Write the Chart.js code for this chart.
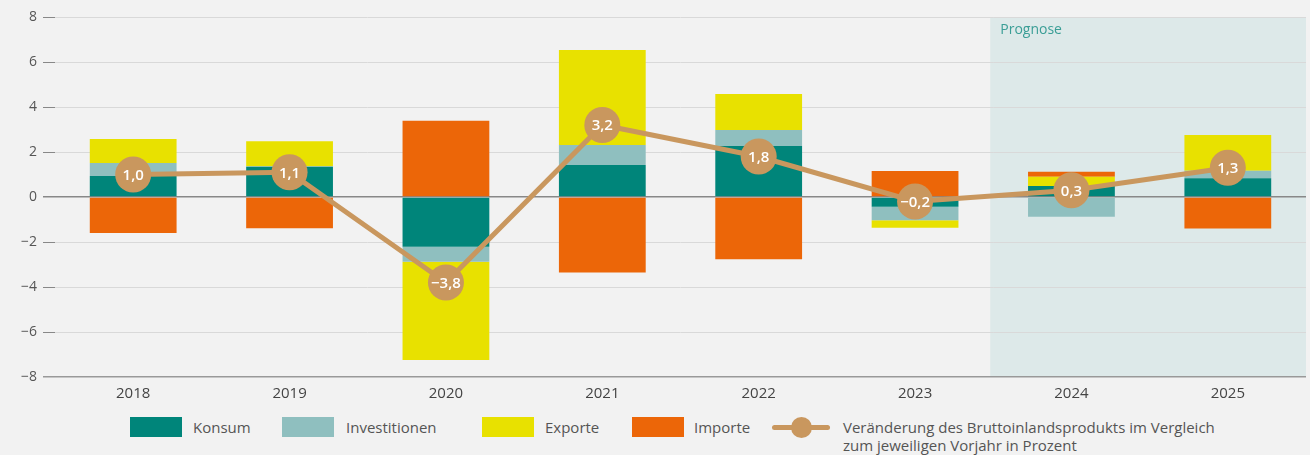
<!DOCTYPE html>
<html>
<head>
<meta charset="utf-8">
<script src="https://cdn.jsdelivr.net/npm/chart.js@4.4.1/dist/chart.umd.min.js"></script>
<style>
  body { margin: 0; background: #f2f2f2; font-family: "Open Sans", sans-serif; }
  #wrap { position: relative; width: 1310px; height: 405px; }
  .box { position: absolute; width: 52px; height: 20px; top: 417px; }
  .lbl { position: absolute; top: 417px; line-height: 20px; font-size: 15px; color: #555; }
</style>
</head>
<body>
<div id="wrap"><canvas id="chart"></canvas></div>
<div class="box" style="left:130px;background:#00857a"></div>
<div class="lbl" style="left:193px">Konsum</div>
<div class="box" style="left:282px;background:#8fbfbf"></div>
<div class="lbl" style="left:346px">Investitionen</div>
<div class="box" style="left:482px;background:#e8e100"></div>
<div class="lbl" style="left:545px">Exporte</div>
<div class="box" style="left:632px;background:#ec6608"></div>
<div class="lbl" style="left:694px">Importe</div>
<div style="position:absolute;left:772px;top:425px;width:58px;height:5px;border-radius:3px;background:#c9975e"></div>
<div style="position:absolute;left:791px;top:417px;width:21px;height:21px;border-radius:50%;background:#c9975e"></div>
<div class="lbl" style="left:843px;line-height:18px;top:418px">Veränderung des Bruttoinlandsprodukts im Vergleich<br>zum jeweiligen Vorjahr in Prozent</div>
<script>
var years = ["2018", "2019", "2020", "2021", "2022", "2023", "2024", "2025"];
var konsum = [0.93, 1.35, -2.21, 1.42, 2.27, -0.43, 0.49, 0.83];
var investitionen = [0.58, 0.02, -0.67, 0.89, 0.71, -0.6, -0.88, 0.34];
var exporte = [1.07, 1.11, -4.36, 4.22, 1.6, -0.34, 0.41, 1.59];
var importe = [-1.6, -1.39, 3.39, -3.36, -2.77, 1.16, 0.22, -1.4];
var bip = [1.0, 1.1, -3.8, 3.2, 1.8, -0.2, 0.3, 1.3];
var yTicks = [-8, -6, -4, -2, 0, 2, 4, 6, 8];
var prognoseFrom = 6;

function fmt(v) {
  var s = Math.abs(v).toFixed(1).replace(".", ",");
  return v < 0 ? "\u2212" + s : s;
}

var prognosePlugin = {
  id: "prognose",
  beforeDraw: function (chart) {
    var c = chart.ctx, a = chart.chartArea, x = chart.scales.x;
    var left = (x.getPixelForValue(prognoseFrom - 1) + x.getPixelForValue(prognoseFrom)) / 2 - 3;
    c.save();
    c.fillStyle = "#dde9e9";
    c.fillRect(left, a.top, a.right - left, a.bottom - a.top);
    c.fillStyle = "#3a9e96";
    c.font = "14px 'Open Sans'";
    c.textBaseline = "middle";
    c.fillText("Prognose", left + 10, a.top + 13);
    c.restore();
  }
};

var labelPlugin = {
  id: "bipLabels",
  afterDatasetsDraw: function (chart) {
    var c = chart.ctx;
    var meta = chart.getDatasetMeta(4);
    c.save();
    c.fillStyle = "#ffffff";
    c.font = "600 15px 'Open Sans'";
    c.textAlign = "center";
    c.textBaseline = "middle";
    meta.data.forEach(function (p, i) {
      c.fillText(fmt(bip[i]), p.x, p.y + 1);
    });
    c.restore();
  }
};

var barOpts = { stack: "bars", order: 1, barPercentage: 0.555, categoryPercentage: 1 };

new Chart(document.getElementById("chart"), {
  data: {
    labels: years,
    datasets: [
      Object.assign({ type: "bar", label: "Konsum", data: konsum, backgroundColor: "#00857a" }, barOpts),
      Object.assign({ type: "bar", label: "Investitionen", data: investitionen, backgroundColor: "#8fbfbf" }, barOpts),
      Object.assign({ type: "bar", label: "Exporte", data: exporte, backgroundColor: "#e8e100" }, barOpts),
      Object.assign({ type: "bar", label: "Importe", data: importe, backgroundColor: "#ec6608" }, barOpts),
      {
        type: "line", label: "BIP", data: bip, stack: "bip", order: 0,
        borderColor: "#c9975e", borderWidth: 5, pointRadius: 18, pointHoverRadius: 18,
        pointBackgroundColor: "#c9975e", pointBorderWidth: 0, tension: 0
      }
    ]
  },
  options: {
    responsive: true,
    maintainAspectRatio: false,
    animation: false,
    layout: { autoPadding: false, padding: { top: 17, right: 4, left: 0, bottom: 0 } },
    plugins: { legend: { display: false }, tooltip: { enabled: false } },
    scales: {
      x: {
        stacked: true,
        grid: { display: false, drawTicks: false },
        border: { display: false },
        ticks: { padding: 8, color: "#444", font: { family: "Open Sans", size: 15 } },
        afterFit: function (s) { s.height = 28; }
      },
      y: {
        stacked: true,
        min: -8, max: 8,
        afterBuildTicks: function (s) { s.ticks = yTicks.map(function (v) { return { value: v }; }); },
        afterFit: function (s) { s.width = 55; },
        border: { display: false },
        grid: {
          tickLength: 12,
          color: function (ctx) { var v = ctx.tick && ctx.tick.value; return v === 0 ? "#888888" : v === -8 ? "#999999" : "#d9d9d9"; },
          tickColor: function (ctx) { var v = ctx.tick && ctx.tick.value; return v === -8 ? "#999999" : "#888888"; },
          lineWidth: function (ctx) { var v = ctx.tick && ctx.tick.value; return (v === 0 || v === -8) ? 1.5 : 1; }
        },
        ticks: {
          padding: 6, color: "#555",
          font: { family: "Open Sans", size: 14 },
          callback: function (v) { return v < 0 ? "\u2212" + Math.abs(v) : String(v); }
        }
      }
    }
  },
  plugins: [prognosePlugin, labelPlugin]
});
</script>
</body>
</html>
